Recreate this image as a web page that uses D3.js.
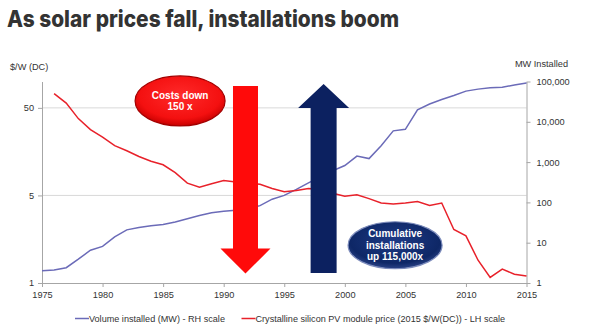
<!DOCTYPE html>
<html>
<head>
<meta charset="utf-8">
<script src="https://cdn.jsdelivr.net/npm/d3@7"></script>
<style>
  html, body { margin: 0; padding: 0; background: #fff; }
  svg { display: block; }
  .axis text { font-family: "Liberation Sans", Arial, sans-serif; font-size: 9.2px; fill: #333; }
  .axis path, .axis line { stroke: #a6a6a6; }
</style>
</head>
<body>
<svg id="chart"></svg>
<script>
// Module price, $/W (2015 dollars), 1976-2015
const priceYears = d3.range(1976, 2016);
const priceValues = [
  72.7, 56.7, 37.7, 28.2, 23.1, 18.5, 16.2, 13.9, 12.3, 11.2,
  9.1, 6.9, 6.2, 6.8, 7.4, 7.1, 6.9, 6.7, 6.0, 5.5,
  5.7, 6.0, 5.85, 5.3, 4.9, 5.1, 4.6, 4.1, 4.0, 4.1,
  4.25, 3.85, 4.1, 2.04, 1.73, 0.91, 0.58, 0.72, 0.63, 0.60
];

// Cumulative installed capacity, MW, 1975-2015
const volumeYears = d3.range(1975, 2016);
const volumeValues = [
  2.0, 2.1, 2.4, 3.9, 6.5, 8.1, 13.9, 20.8, 23.7, 26.4,
  28.3, 32.6, 39.4, 47.3, 55.5, 60.5, 64, 70, 83, 120,
  149, 211, 306, 433, 611, 822, 1409, 1221, 2554, 5955,
  6490, 19900, 27600, 35700, 44900, 57700, 64700, 70100, 71800, 81900,
  91800
];

const xTicks = [1975, 1980, 1985, 1990, 1995, 2000, 2005, 2010, 2015];
const leftTicks = [0.5, 5, 50];
const rightTicks = [1, 10, 100, 1000, 10000, 100000];

const W = 590, H = 333;
const margin = {top: 81.5, right: 63.5, bottom: 50, left: 42};
const width = W - margin.left - margin.right,
      height = H - margin.top - margin.bottom;

const svg = d3.select("#chart").attr("width", W).attr("height", H);

// Title
svg.append("text")
  .attr("x", 7).attr("y", 27)
  .attr("textLength", 392).attr("lengthAdjust", "spacingAndGlyphs")
  .style("font-family", "Inter, Roboto, sans-serif")
  .style("font-weight", 800)
  .style("font-size", "23px")
  .style("fill", "#333")
  .text("As solar prices fall, installations boom");

const g = svg.append("g").attr("transform", `translate(${margin.left},${margin.top})`);

// Scales
const x = d3.scaleLinear().domain([1975, 2015]).range([0, width]);
const yL = d3.scaleLog().domain([0.5, 100]).range([height, 0]);
const yR = d3.scaleLog().domain([1, 100000]).range([height, 0]);

// Gridlines on the price axis
g.append("g")
  .selectAll("line")
  .data([5, 50])
  .join("line")
  .attr("x1", 0).attr("x2", width)
  .attr("y1", d => yL(d)).attr("y2", d => yL(d))
  .attr("stroke", "#d9d9d9");

// Axes
g.append("g")
  .attr("class", "axis")
  .attr("transform", `translate(0,${height})`)
  .call(d3.axisBottom(x).tickValues(xTicks).tickFormat(d3.format("d")).tickSize(4).tickSizeOuter(0).tickPadding(4));

g.append("g")
  .attr("class", "axis")
  .call(d3.axisLeft(yL).tickValues(leftTicks).tickFormat(d => Math.round(d)).tickSize(4).tickSizeOuter(0).tickPadding(4));

g.append("g")
  .attr("class", "axis")
  .attr("transform", `translate(${width},0)`)
  .call(d3.axisRight(yR).tickValues(rightTicks).tickFormat(d3.format(",")).tickSize(4).tickSizeOuter(0).tickPadding(6));

// Axis titles
svg.append("text")
  .attr("x", 10).attr("y", 70)
  .style("font-family", "Liberation Sans, Arial, sans-serif")
  .style("font-size", "9.2px").style("fill", "#333")
  .text("$/W (DC)");

svg.append("text")
  .attr("x", 568).attr("y", 67)
  .attr("text-anchor", "end")
  .style("font-family", "Liberation Sans, Arial, sans-serif")
  .style("font-size", "9.2px").style("fill", "#333")
  .text("MW Installed");

// Series lines
const blue = "#6b6bb8", red = "#e8212a";

const volumeLine = d3.line()
  .x((d, i) => x(volumeYears[i]))
  .y(d => yR(d));

const priceLine = d3.line()
  .x((d, i) => x(priceYears[i]))
  .y(d => yL(d));

g.append("path")
  .datum(volumeValues)
  .attr("fill", "none")
  .attr("stroke", blue)
  .attr("stroke-width", 1.5)
  .attr("d", volumeLine);

g.append("path")
  .datum(priceValues)
  .attr("fill", "none")
  .attr("stroke", red)
  .attr("stroke-width", 1.5)
  .attr("d", priceLine);

// Block arrows
function arrowPath(cx, y0, y1, shaftW, headW, headL) {
  // y0 = tail end, y1 = tip
  const dir = y1 > y0 ? 1 : -1;
  const yb = y1 - dir * headL;
  return `M${cx - shaftW / 2},${y0} L${cx + shaftW / 2},${y0} L${cx + shaftW / 2},${yb}` +
         ` L${cx + headW / 2},${yb} L${cx},${y1} L${cx - headW / 2},${yb} L${cx - shaftW / 2},${yb} Z`;
}

g.append("path")
  .attr("d", arrowPath(x(1991.8), yL(89), yL(0.64), 25, 50, 25))
  .attr("fill", "#ff0a0a");

g.append("path")
  .attr("d", arrowPath(x(1998.25), yR(1.77), yR(86700), 26, 51, 24))
  .attr("fill", "#0c2160");

// Callout bubbles
const defs = svg.append("defs");
const redGrad = defs.append("radialGradient").attr("id", "redGrad").attr("cx", "50%").attr("cy", "40%").attr("r", "60%");
redGrad.append("stop").attr("offset", "0%").attr("stop-color", "#ff2a2a");
redGrad.append("stop").attr("offset", "75%").attr("stop-color", "#f41010");
redGrad.append("stop").attr("offset", "100%").attr("stop-color", "#c80000");

const blueGrad = defs.append("radialGradient").attr("id", "blueGrad").attr("cx", "50%").attr("cy", "40%").attr("r", "60%");
blueGrad.append("stop").attr("offset", "0%").attr("stop-color", "#1d3a85");
blueGrad.append("stop").attr("offset", "80%").attr("stop-color", "#0e2766");
blueGrad.append("stop").attr("offset", "100%").attr("stop-color", "#2a4286");

const bubbles = [
  {year: 1986.4, val: 60, scale: yL, rx: 45, ry: 25, fill: "url(#redGrad)", stroke: "#a30000",
   lines: ["Costs down", "150 x"]},
  {year: 2004.15, val: 8.65, scale: yR, rx: 47, ry: 23.5, fill: "url(#blueGrad)", stroke: "#7d8cbc",
   lines: ["Cumulative", "installations", "up 115,000x"]}
];

bubbles.forEach(b => {
  const cx = x(b.year), cy = b.scale(b.val);
  g.append("ellipse")
    .attr("cx", cx).attr("cy", cy)
    .attr("rx", b.rx).attr("ry", b.ry)
    .attr("fill", b.fill)
    .attr("stroke", b.stroke)
    .attr("stroke-width", 1.2);
  const lh = 11.7;
  const t = g.append("text")
    .attr("text-anchor", "middle")
    .style("font-family", "Liberation Sans, Arial, sans-serif")
    .style("font-weight", 700)
    .style("font-size", "10px")
    .style("fill", "#fff");
  b.lines.forEach((s, i) => {
    t.append("tspan")
      .attr("x", cx)
      .attr("y", cy + (i - (b.lines.length - 1) / 2) * lh + 3.5)
      .text(s);
  });
});

// Legend
const legendItems = [
  {label: "Volume installed (MW) - RH scale", color: blue, x: 75},
  {label: "Crystalline silicon PV module price (2015 $/W(DC)) - LH scale", color: red, x: 241.5}
];

const legend = svg.selectAll(".legend")
  .data(legendItems)
  .join("g")
  .attr("class", "legend")
  .attr("transform", d => `translate(${d.x},318.5)`);

legend.append("line")
  .attr("x1", 0).attr("x2", 14)
  .attr("stroke", d => d.color)
  .attr("stroke-width", 1.5);

legend.append("text")
  .attr("x", 14).attr("y", 3.3)
  .style("font-family", "Liberation Sans, Arial, sans-serif")
  .style("font-size", "9.1px").style("fill", "#333")
  .text(d => d.label);
</script>
</body>
</html>
